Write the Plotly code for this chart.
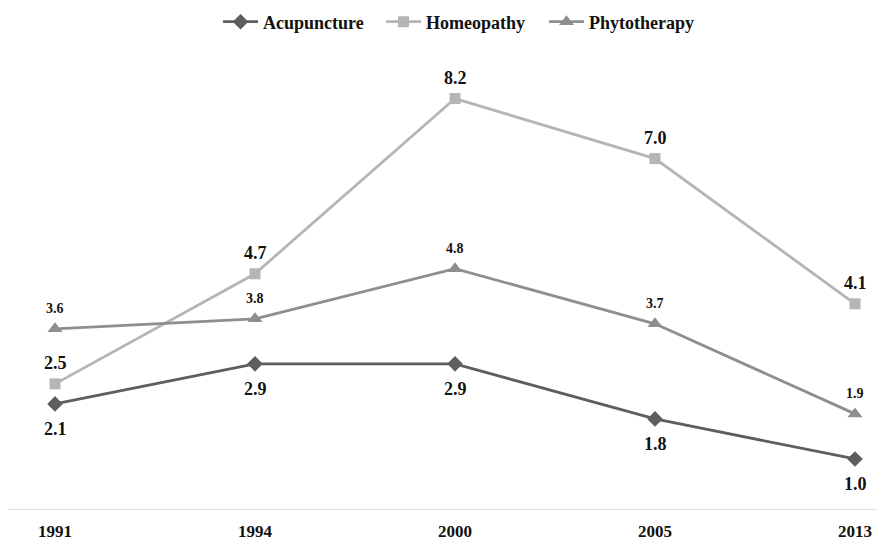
import plotly.graph_objects as go

years = ["1991", "1994", "2000", "2005", "2013"]
acupuncture = [2.1, 2.9, 2.9, 1.8, 1.0]
homeopathy = [2.5, 4.7, 8.2, 7.0, 4.1]
phytotherapy = [3.6, 3.8, 4.8, 3.7, 1.9]

xs = list(range(len(years)))
FF = "Liberation Serif, Times New Roman, serif"

series = [
    ("Acupuncture", acupuncture, "#5e5e5e", "diamond", 12, 18, -25),
    ("Homeopathy", homeopathy, "#b5b5b5", "square", 11, 18, 21),
    ("Phytotherapy", phytotherapy, "#8e8e8e", "triangle-up", 13, 14, 20),
]

fig = go.Figure()
annotations = []
for name, vals, color, sym, msize, fsize, shift in series:
    fig.add_trace(go.Scatter(
        x=xs, y=vals, name=name, mode="lines+markers",
        line=dict(color=color, width=2.8),
        marker=dict(symbol=sym, size=msize, color=color),
        cliponaxis=False,
    ))
    for x, v in zip(xs, vals):
        annotations.append(dict(
            x=x, y=v, xref="x", yref="y", text=f"{v:.1f}", showarrow=False,
            yshift=shift, xanchor="center", yanchor="middle",
            font=dict(family=FF, size=fsize, color="#111111", weight="bold"),
        ))

fig.update_layout(
    width=877, height=539,
    margin=dict(l=0, r=0, t=52, b=38, autoexpand=False),
    paper_bgcolor="white", plot_bgcolor="white",
    font=dict(family=FF, size=17, color="#111111", weight="bold"),
    showlegend=True,
    annotations=annotations,
    legend=dict(orientation="h", x=0.2395, xanchor="left",
                yref="container", y=0.974, yanchor="middle",
                font=dict(family=FF, size=18, color="#111111", weight="bold"),
                itemwidth=35, entrywidth=113, entrywidthmode="pixels",
                tracegroupgap=0),
    xaxis=dict(range=[-0.235, 4.15], tickvals=xs, ticktext=years,
               showgrid=False, zeroline=False, showline=True, linecolor="#e0e0e0",
               linewidth=1, ticks="", ticklabelstandoff=7,
               tickfont=dict(family=FF, size=17, color="#111111", weight="bold")),
    yaxis=dict(range=[0, 8.97], showgrid=False, zeroline=False, showline=False,
               showticklabels=False, ticks=""),
)

fig.write_html("out.html")
